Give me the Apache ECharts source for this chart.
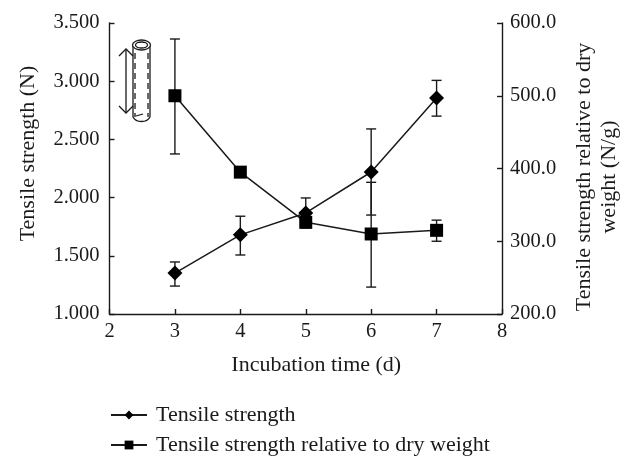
<!DOCTYPE html>
<html><head><meta charset="utf-8">
<style>html,body{margin:0;padding:0;background:#fff}#c{width:633px;height:471px}</style>
<script src="https://cdn.jsdelivr.net/npm/echarts@6/dist/echarts.min.js"></script>
</head><body><div id="c"></div>
<script>
const days = [3, 4, 5, 6, 7];
const strength = [1.352, 1.68, 1.868, 2.22, 2.855];
const strengthLow = [1.24, 1.507, 1.74, 1.85, 2.70];
const strengthHigh = [1.447, 1.84, 1.997, 2.59, 3.007];
const relative = [500, 395, 326, 310, 315];
const relativeLow = [420, 389, 320, 237, 300];
const relativeHigh = [578, 401, 332, 381, 329];
const nameA = 'Tensile strength';
const nameB = 'Tensile strength relative to dry weight';
const font = '"Liberation Serif", serif';
const ink = '#1a1a1a';

const pairs = (ys) => days.map((d, i) => [d, ys[i]]);
const triples = (lo, hi) => days.map((d, i) => [d, lo[i], hi[i]]);
function errRender(params, api) {
  const x = api.value(0);
  const a = api.coord([x, api.value(1)]);
  const b = api.coord([x, api.value(2)]);
  const cap = 5;
  const style = { stroke: ink, lineWidth: 1.4, fill: null };
  return { type: 'group', children: [
    { type: 'line', shape: { x1: a[0], y1: a[1], x2: b[0], y2: b[1] }, style },
    { type: 'line', shape: { x1: a[0]-cap, y1: a[1], x2: a[0]+cap, y2: a[1] }, style },
    { type: 'line', shape: { x1: b[0]-cap, y1: b[1], x2: b[0]+cap, y2: b[1] }, style }
  ]};
}
const axisLine = { show: true, lineStyle: { color: ink, width: 1.4 } };
const axisTick = { show: true, inside: true, length: 5, lineStyle: { color: ink, width: 1.4 } };
const label = { color: ink, fontFamily: font, fontSize: 20.5 };
const nameStyle = { color: ink, fontFamily: font, fontSize: 22 };
const stroke = { stroke: ink, lineWidth: 1.3, fill: 'none' };
const chart = echarts.init(document.getElementById('c'), null, { renderer: 'canvas' });
chart.setOption({
  animation: false,
  backgroundColor: '#fff',
  grid: { left: 109.5, right: 131, top: 23, bottom: 157, outerBoundsMode: 'none' },
  legend: {
    left: 105, top: 399, orient: 'vertical', itemWidth: 36, itemHeight: 11, itemGap: 8,
    data: [nameA, nameB],
    textStyle: { color: ink, fontFamily: font, fontSize: 22, padding: [0,0,0,4] }
  },
  xAxis: {
    type: 'value', min: 2, max: 8, interval: 1,
    name: 'Incubation time (d)', nameLocation: 'middle', nameGap: 40,
    nameTextStyle: { ...nameStyle, padding: [0,0,0,21] },
    axisLine, axisTick, axisLabel: { ...label, margin: 7 }, splitLine: { show: false }
  },
  yAxis: [
    { type: 'value', min: 1, max: 3.5, interval: 0.5,
      name: 'Tensile strength (N)', nameLocation: 'middle', nameGap: 70, nameRotate: 90,
      nameTextStyle: { ...nameStyle, padding: [0,0,0,30] },
      axisLine, axisTick, axisLabel: { ...label, margin: 10, formatter: v => v.toFixed(3) }, splitLine: { show: false } },
    { type: 'value', min: 200, max: 600, interval: 100, position: 'right',
      name: 'Tensile strength relative to dry\nweight (N/g)', nameLocation: 'middle', nameGap: 70, nameRotate: 90,
      nameTextStyle: { ...nameStyle, lineHeight: 25, padding: [0,17,0,0] },
      axisLine, axisTick, axisLabel: { ...label, margin: 8, formatter: v => v.toFixed(1) }, splitLine: { show: false } }
  ],
  series: [
    { type: 'custom', yAxisIndex: 0, renderItem: errRender, encode: { x: 0, y: [1, 2] }, data: triples(strengthLow, strengthHigh), z: 1, silent: true },
    { type: 'custom', yAxisIndex: 1, renderItem: errRender, encode: { x: 0, y: [1, 2] }, data: triples(relativeLow, relativeHigh), z: 1, silent: true },
    { name: nameA, type: 'line', yAxisIndex: 0, data: pairs(strength), symbol: 'diamond', symbolSize: 15,
      lineStyle: { color: ink, width: 1.5 }, itemStyle: { color: '#000' }, z: 3 },
    { name: nameB, type: 'line', yAxisIndex: 1, data: pairs(relative), symbol: 'rect', symbolSize: 13,
      lineStyle: { color: ink, width: 1.5 }, itemStyle: { color: '#000' }, z: 4 }
  ],
  graphic: [
    { type: 'group', silent: true, children: [
      { type: 'line', shape: { x1: 133, y1: 45, x2: 133, y2: 117 }, style: stroke },
      { type: 'line', shape: { x1: 150, y1: 45, x2: 150, y2: 117 }, style: stroke },
      { type: 'ellipse', shape: { cx: 141.5, cy: 45, rx: 9, ry: 5 }, style: { ...stroke, fill: '#fff' } },
      { type: 'ellipse', shape: { cx: 141.5, cy: 45, rx: 6, ry: 3 }, style: stroke },
      { type: 'bezierCurve', shape: { x1: 133, y1: 117, cpx1: 136, cpy1: 123, cpx2: 147, cpy2: 123, x2: 150, y2: 117 }, style: stroke },
      { type: 'line', shape: { x1: 135, y1: 53, x2: 135, y2: 117 }, style: { ...stroke, lineDash: [6, 4] } },
      { type: 'line', shape: { x1: 148, y1: 53, x2: 148, y2: 117 }, style: { ...stroke, lineDash: [6, 4] } },
      { type: 'line', shape: { x1: 136, y1: 116, x2: 143, y2: 114 }, style: stroke },
      { type: 'line', shape: { x1: 126, y1: 49, x2: 126, y2: 113 }, style: stroke },
      { type: 'polyline', shape: { points: [[119, 56], [126, 49], [133, 56]] }, style: stroke },
      { type: 'polyline', shape: { points: [[119, 106], [126, 113], [133, 106]] }, style: stroke }
    ]}
  ]
});
</script></body></html>
